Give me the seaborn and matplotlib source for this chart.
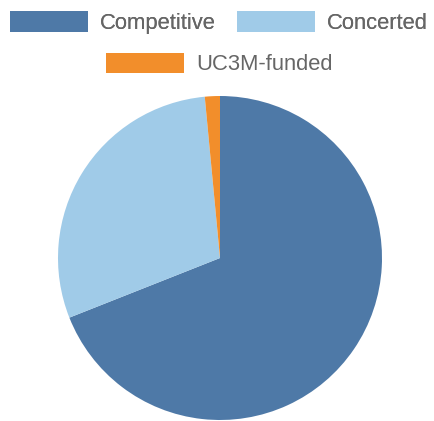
import matplotlib
matplotlib.use("Agg")
from matplotlib import pyplot as plt
from matplotlib.patches import Patch
import seaborn as sns

# data (percent of projects)
labels = ["Competitive", "Concerted", "UC3M-funded"]
shares = [69.0, 29.5, 1.5]
colors = ["#4e79a7", "#a0cbe8", "#f28e2b"]

sns.set_theme(style="white")
plt.rcParams['font.family'] = ['Liberation Sans', 'DejaVu Sans']

W, H = 435, 421
fig = plt.figure(figsize=(W / 100, H / 100), dpi=100)

# pie: centre (220, 258) px, radius 162 px
cx, cy, r = 220, 258, 162
ax = fig.add_axes([(cx - r) / W, (H - cy - r) / H, 2 * r / W, 2 * r / H])
ax.pie(shares, colors=colors, startangle=90, counterclock=False,
       radius=1, wedgeprops=dict(linewidth=0))
ax.set_xlim(-1, 1)
ax.set_ylim(-1, 1)
ax.set_aspect("equal")
ax.axis("off")

# legend, chart.js style: rows centred on their own
handles = [Patch(facecolor=c, edgecolor="none") for c in colors]
opts = dict(loc="center", frameon=False, fontsize=15.8, labelcolor="#666666",
            handlelength=3.55, handleheight=1.05, handletextpad=0.55,
            columnspacing=0.95, borderpad=0, borderaxespad=0)
leg1 = fig.legend(handles[:2], labels[:2], ncol=2,
                  bbox_to_anchor=(219 / W, 1 - 22.5 / H), **opts)
fig.add_artist(leg1)
fig.legend(handles[2:], labels[2:], ncol=1,
           bbox_to_anchor=(219.5 / W, 1 - 64 / H), **opts)

fig.savefig("out.png", dpi=100)
